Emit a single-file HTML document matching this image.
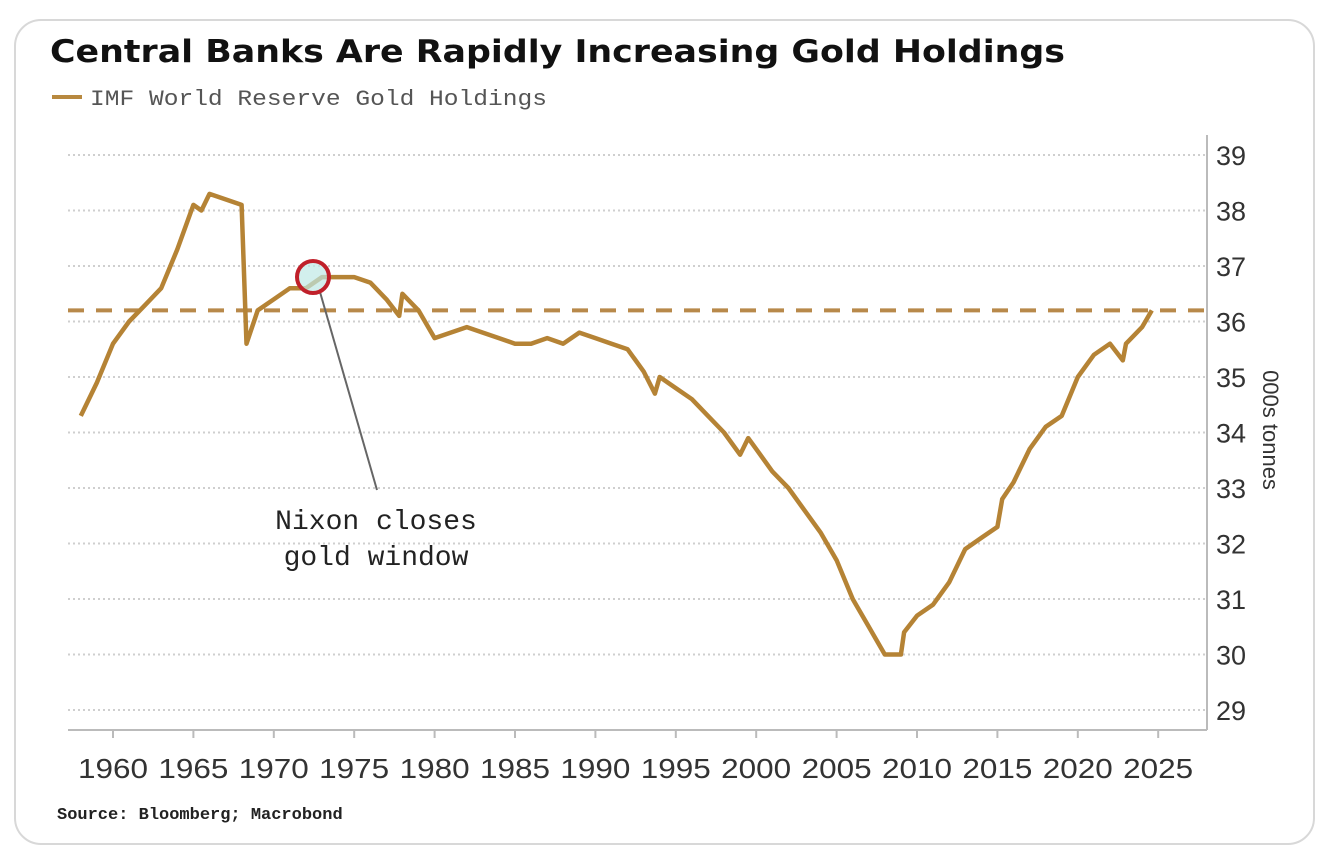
<!DOCTYPE html>
<html><head><meta charset="utf-8"><style>
body{margin:0;background:#fff;}
svg{display:block;}
</style></head><body>
<svg id="chart" width="1328" height="866" xmlns="http://www.w3.org/2000/svg">
<rect x="15" y="20" width="1299" height="824" rx="26" fill="#fff" stroke="#d8d8d8" stroke-width="2"/>
<text x="50" y="62" font-family="'DejaVu Sans','Liberation Sans',sans-serif" font-weight="bold" font-size="31" fill="#111" textLength="1015" lengthAdjust="spacingAndGlyphs">Central Banks Are Rapidly Increasing Gold Holdings</text>
<g>
<line x1="52" y1="97" x2="82" y2="97" stroke="#b8893f" stroke-width="4"/>
<text x="90" y="105" font-family="'Liberation Mono',monospace" font-size="22" fill="#555" textLength="457" lengthAdjust="spacingAndGlyphs">IMF World Reserve Gold Holdings</text>
</g>
<g id="grid"></g>
<g id="axes"></g>
<line id="refline" stroke="#b8894a" stroke-width="4" stroke-dasharray="16,12"/>
<path id="series" fill="none" stroke="#b58335" stroke-width="4.5" stroke-linejoin="round"/>
<g>
<line x1="320" y1="292" x2="377" y2="490" stroke="#666" stroke-width="2"/>
<circle cx="313" cy="277" r="16" fill="#bfe8e6" fill-opacity="0.7" stroke="#c0202a" stroke-width="4"/>
<text x="376" y="529" text-anchor="middle" font-family="'Liberation Mono',monospace" font-size="28" fill="#222">Nixon closes</text>
<text x="376" y="565" text-anchor="middle" font-family="'Liberation Mono',monospace" font-size="28" fill="#222">gold window</text>
</g>
<text transform="translate(1263,430) rotate(90)" text-anchor="middle" font-family="'Liberation Sans',sans-serif" font-size="22" fill="#333">000s tonnes</text>
<text x="57" y="819" font-family="'Liberation Mono',monospace" font-weight="bold" font-size="17" fill="#222">Source: Bloomberg; Macrobond</text>
</svg>
<script>
const years=[1958,1959,1960,1961,1962,1963,1964,1965,1965.5,1966,1967,1968,1968.3,1969,1970,1971,1972,1973,1974,1975,1976,1977,1977.8,1978,1979,1980,1981,1982,1983,1984,1985,1986,1987,1988,1989,1990,1991,1992,1993,1993.7,1994,1995,1996,1997,1998,1999,1999.5,2000,2001,2002,2003,2004,2005,2006,2007,2008,2009,2009.2,2010,2011,2012,2013,2014,2015,2015.3,2016,2017,2018,2019,2020,2021,2022,2022.8,2023,2024,2024.6];
const holdings=[34.3,34.9,35.6,36.0,36.3,36.6,37.3,38.1,38.0,38.3,38.2,38.1,35.6,36.2,36.4,36.6,36.6,36.8,36.8,36.8,36.7,36.4,36.1,36.5,36.2,35.7,35.8,35.9,35.8,35.7,35.6,35.6,35.7,35.6,35.8,35.7,35.6,35.5,35.1,34.7,35.0,34.8,34.6,34.3,34.0,33.6,33.9,33.7,33.3,33.0,32.6,32.2,31.7,31.0,30.5,30.0,30.0,30.4,30.7,30.9,31.3,31.9,32.1,32.3,32.8,33.1,33.7,34.1,34.3,35.0,35.4,35.6,35.3,35.6,35.9,36.2];
const yTicks=[29,30,31,32,33,34,35,36,37,38,39];
const xTicks=[1960,1965,1970,1975,1980,1985,1990,1995,2000,2005,2010,2015,2020,2025];
const refValue=[36.2];
const X=y=>113+(y-1960)*16.08;
const Y=v=>155+(39-v)*55.5;
const NS="http://www.w3.org/2000/svg";
const grid=document.getElementById('grid'), axes=document.getElementById('axes');
yTicks.forEach(t=>{
  const l=document.createElementNS(NS,'line');
  l.setAttribute('x1',68);l.setAttribute('x2',1207);l.setAttribute('y1',Y(t));l.setAttribute('y2',Y(t));
  l.setAttribute('stroke','#cfcfcf');l.setAttribute('stroke-width','2');l.setAttribute('stroke-dasharray','2,3');
  
  
  grid.appendChild(l);
  const tx=document.createElementNS(NS,'text');
  tx.setAttribute('x',1216);tx.setAttribute('y',Y(t)+10);
  tx.setAttribute('font-family',"'Liberation Sans',sans-serif");tx.setAttribute('font-size','27');tx.setAttribute('fill','#333');
  tx.textContent=t;
  
  
  axes.appendChild(tx);
});
const mk=(x1,y1,x2,y2)=>{const l=document.createElementNS(NS,'line');l.setAttribute('x1',x1);l.setAttribute('y1',y1);l.setAttribute('x2',x2);l.setAttribute('y2',y2);l.setAttribute('stroke','#bbb');l.setAttribute('stroke-width','2');axes.appendChild(l);return l;};
const xa=mk(68,730,1207,730);


const ya=mk(1207,135,1207,730);


xTicks.forEach(t=>{
  const tk=mk(X(t),730,X(t),738);
  
  
  const tx=document.createElementNS(NS,'text');
  tx.setAttribute('x',X(t));tx.setAttribute('y',778);tx.setAttribute('text-anchor','middle');
  tx.setAttribute('font-family',"'Liberation Sans',sans-serif");tx.setAttribute('font-size','28');tx.setAttribute('fill','#333');
  tx.setAttribute('textLength','70');tx.setAttribute('lengthAdjust','spacingAndGlyphs');
  tx.textContent=t;
  
  
  axes.appendChild(tx);
});
const r=document.getElementById('refline');
r.setAttribute('x1',68);r.setAttribute('x2',1207);r.setAttribute('y1',Y(refValue[0]));r.setAttribute('y2',Y(refValue[0]));
let d='';
years.forEach((yr,i)=>{d+=(i?'L':'M')+X(yr).toFixed(1)+','+Y(holdings[i]).toFixed(1);});
document.getElementById('series').setAttribute('d',d);
</script>
</body></html>
